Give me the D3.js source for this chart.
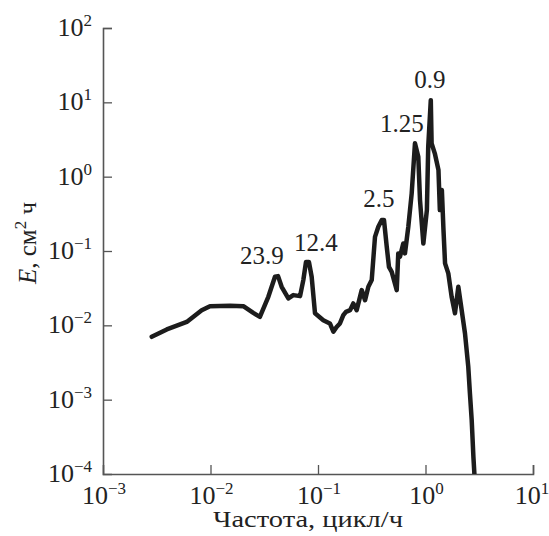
<!DOCTYPE html>
<html>
<head>
<meta charset="utf-8">
<script src="https://cdn.jsdelivr.net/npm/d3@7"></script>
<style>
    body { margin: 0; background: #fff; }
    svg { display: block; }
</style>
</head>
<body>
<div id="chart"></div>
<script>
// spectrum: frequency (cycles/h) and E (cm^2 h)
const freq = [0.00284, 0.00392, 0.00601, 0.00828, 0.00989, 0.0152, 0.0202, 0.0250, 0.0288, 0.0345,
    0.0398, 0.0425, 0.0459, 0.0530, 0.0589, 0.0681, 0.0730, 0.0773, 0.0824, 0.0873,
    0.0938, 0.112, 0.129, 0.139, 0.149, 0.160, 0.172, 0.182, 0.199, 0.213,
    0.229, 0.255, 0.274, 0.294, 0.316, 0.339, 0.364, 0.392, 0.411, 0.436,
    0.457, 0.485, 0.540, 0.558, 0.579, 0.621, 0.644, 0.692, 0.744, 0.798,
    0.857, 0.889, 0.955, 1.03, 1.06, 1.12, 1.14, 1.22, 1.32, 1.36,
    1.42, 1.47, 1.52, 1.63, 1.75, 1.88, 2.02, 2.17, 2.33, 2.50,
    2.59, 2.69, 2.79, 2.85];
const energy = [0.0070, 0.0088, 0.0111, 0.0160, 0.0181, 0.0184, 0.0181, 0.0147, 0.0130, 0.0242,
    0.0450, 0.0459, 0.0330, 0.0230, 0.0255, 0.0247, 0.0406, 0.0710, 0.0710, 0.0450,
    0.0145, 0.0117, 0.0106, 0.0082, 0.0095, 0.0106, 0.0137, 0.0152, 0.0160, 0.0197,
    0.0160, 0.0298, 0.0218, 0.0330, 0.0406, 0.155, 0.212, 0.261, 0.261, 0.114,
    0.0613, 0.0525, 0.0298, 0.0929, 0.0836, 0.126, 0.0929, 0.212, 0.596, 2.81,
    1.85, 0.484, 0.126, 0.355, 2.52, 10.7, 2.81, 2.06, 1.23, 0.355,
    0.661, 0.191, 0.0681, 0.0500, 0.0242, 0.0145, 0.0330, 0.0160, 0.0078, 0.00277,
    0.00121, 0.00053, 0.00017, 0.0001];

// periods (h) marked over the peaks, and where each label sits (data coords)
const peakLabels = ['23.9', '12.4', '2.5', '1.25', '0.9'];
const peakFreq = [0.0301, 0.0958, 0.369, 0.604, 1.10];
const peakE = [0.0667, 0.0998, 0.39, 3.98, 15.6];

const xTickExp = [-3, -2, -1, 0, 1];
const yTickExp = [-4, -3, -2, -1, 0, 1, 2];

const WIDTH = 549, HEIGHT = 536;
const M = { left: 103, right: 16, top: 28, bottom: 62 };
const FONT = '"Liberation Serif", "Times New Roman", Times, serif';
const AXIS_COLOR = '#555';
const TEXT_COLOR = '#222';
const LINE_COLOR = '#1c1c1c';

const svg = d3.select('#chart').append('svg')
    .attr('width', WIDTH)
    .attr('height', HEIGHT)
    .attr('font-family', FONT)
    .attr('fill', TEXT_COLOR);

const x = d3.scaleLog()
    .domain([1e-3, 1e1])
    .range([M.left, WIDTH - M.right]);
const y = d3.scaleLog()
    .domain([1e-4, 1e2])
    .range([HEIGHT - M.bottom, M.top]);

svg.append('clipPath').attr('id', 'plot-clip')
    .append('rect')
    .attr('x', M.left).attr('y', M.top)
    .attr('width', WIDTH - M.left - M.right)
    .attr('height', HEIGHT - M.top - M.bottom);

// power-of-ten label, e.g. 10^-2
function powLabel(sel, exp) {
    sel.append('tspan').text('10');
    sel.append('tspan')
        .attr('dy', -10)
        .attr('font-size', 17)
        .text(exp < 0 ? '\u2212' + (-exp) : String(exp));
}

// x axis
const xAxis = svg.append('g')
    .attr('transform', `translate(0,${y(1e-4)})`)
    .call(d3.axisBottom(x)
        .tickValues(xTickExp.slice(1).map(e => Math.pow(10, e)))
        .tickSize(-9)
        .tickFormat(''));
xAxis.select('.domain').attr('stroke', AXIS_COLOR).attr('stroke-width', 1.6);
xAxis.selectAll('.tick line').attr('stroke', AXIS_COLOR).attr('stroke-width', 1.3);

svg.append('g').selectAll('text')
    .data(xTickExp)
    .join('text')
    .attr('x', d => x(Math.pow(10, d)) + (d === 1 ? -1 : 1))
    .attr('y', y(1e-4) + 30)
    .attr('text-anchor', 'middle')
    .attr('font-family', FONT)
    .attr('font-size', 26)
    .each(function (d) { powLabel(d3.select(this), d); });

// y axis
const yAxis = svg.append('g')
    .attr('transform', `translate(${x(1e-3)},0)`)
    .call(d3.axisLeft(y)
        .tickValues(yTickExp.slice(1).map(e => Math.pow(10, e)))
        .tickSize(-9)
        .tickFormat(''));
yAxis.select('.domain').attr('stroke', AXIS_COLOR).attr('stroke-width', 1.6);
yAxis.selectAll('.tick line').attr('stroke', AXIS_COLOR).attr('stroke-width', 1.3);

svg.append('g').selectAll('text')
    .data(yTickExp)
    .join('text')
    .attr('x', x(1e-3) - 11)
    .attr('y', d => y(Math.pow(10, d)) + 8)
    .attr('text-anchor', 'end')
    .attr('font-family', FONT)
    .attr('font-size', 26)
    .each(function (d) { powLabel(d3.select(this), d); });

// spectrum curve
const pts = freq.map((f, i) => [f, energy[i]]);
svg.append('path')
    .datum(pts)
    .attr('clip-path', 'url(#plot-clip)')
    .attr('fill', 'none')
    .attr('stroke', LINE_COLOR)
    .attr('stroke-width', 4.5)
    .attr('stroke-linejoin', 'round')
    .attr('stroke-linecap', 'round')
    .attr('d', d3.line().x(d => x(d[0])).y(d => y(d[1])));

// peak labels
svg.append('g').selectAll('text')
    .data(peakLabels)
    .join('text')
    .attr('x', (d, i) => x(peakFreq[i]))
    .attr('y', (d, i) => y(peakE[i]))
    .attr('text-anchor', 'middle')
    .attr('font-family', FONT)
    .attr('font-size', 25)
    .text(d => d);

// axis titles
svg.append('text')
    .attr('x', 308)
    .attr('y', HEIGHT - 9)
    .attr('text-anchor', 'middle')
    .attr('font-family', FONT)
    .attr('font-size', 23)
    .attr('textLength', 190)
    .attr('lengthAdjust', 'spacingAndGlyphs')
    .text('Частота, цикл/ч');

const yTitle = svg.append('text')
    .attr('transform', `translate(36,${243}) rotate(-90)`)
    .attr('text-anchor', 'middle')
    .attr('font-family', FONT)
    .attr('font-size', 25);
yTitle.append('tspan').attr('font-style', 'italic').text('E');
yTitle.append('tspan').text(', см');
yTitle.append('tspan').attr('dy', -10).attr('font-size', 17).text('2');
yTitle.append('tspan').attr('dy', 10).text(' ч');
</script>
</body>
</html>
